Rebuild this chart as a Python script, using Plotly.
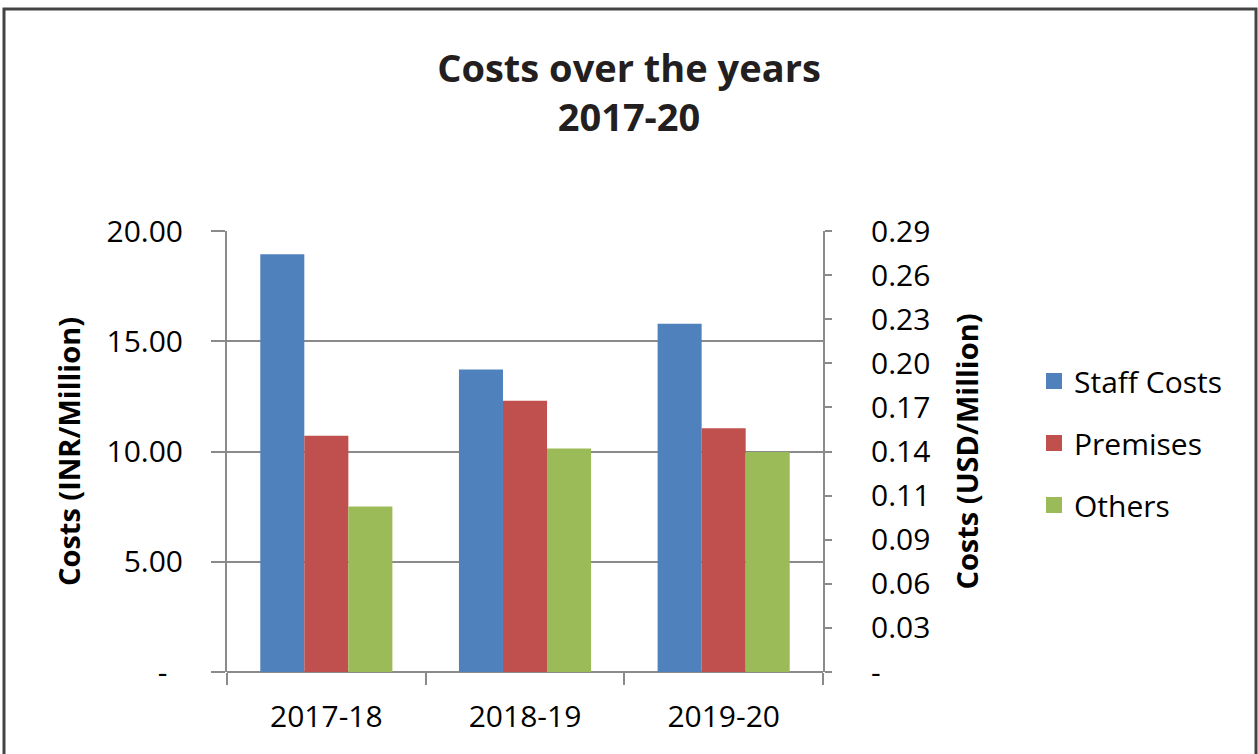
import plotly.graph_objects as go

# Annual costs in INR million
years = ["2017-18", "2018-19", "2019-20"]
staff_costs = [18.94, 13.72, 15.79]
premises = [10.71, 12.30, 11.06]
others = [7.51, 10.14, 9.98]

series_names = ["Staff Costs", "Premises", "Others"]
series_colors = ["#4F81BD", "#C0504D", "#9BBB59"]

# Left axis (INR) ticks
inr_tick_vals = [0, 5, 10, 15, 20]
inr_tick_labels = ["-\u00a0\u00a0", "5.00", "10.00", "15.00", "20.00"]

# Right axis (USD) ticks, INR converted at this rate
INR_PER_USD = 69.7
usd_tick_labels = ["-", "0.03", "0.06", "0.09", "0.11", "0.14",
                   "0.17", "0.20", "0.23", "0.26", "0.29"]

inr_top = 20
usd_top = inr_top / INR_PER_USD
usd_tick_vals = [i * usd_top / (len(usd_tick_labels) - 1) for i in range(len(usd_tick_labels))]

FONT = "Open Sans"
GRID = "#8a8a8a"

fig = go.Figure()
for name, vals, color in zip(series_names, [staff_costs, premises, others], series_colors):
    fig.add_trace(go.Bar(
        x=years, y=vals, name=name, marker=dict(color=color, line=dict(width=0)),
        showlegend=False, legendgroup=name,
    ))

# Legend entries (square swatches) attached to the USD axis
for name, color in zip(series_names, series_colors):
    fig.add_trace(go.Scatter(
        x=[None], y=[None], mode="markers", name=name, legendgroup=name,
        marker=dict(symbol="square", size=16, color=color), yaxis="y2",
        hoverinfo="skip",
    ))

# Plot area in pixels
W, H = 1258, 754
L, R, T, B = 227, 823, 231, 672

fig.update_layout(
    width=W, height=H,
    margin=dict(l=L, r=W - R, t=T, b=H - B, pad=0),
    paper_bgcolor="white", plot_bgcolor="white",
    font=dict(family=FONT, color="black", size=28),
    barmode="group", bargap=0.335, bargroupgap=0,
    title=dict(
        text="<b>Costs over the years<br>2017-20</b>",
        x=0.5, xanchor="center", xref="container",
        y=1 - 82 / H, yanchor="top", yref="container",
        font=dict(family=FONT, size=38, color="#231f20"),
    ),
    xaxis=dict(
        showline=False, showgrid=False, tickson="boundaries",
        ticks="outside", ticklen=12, tickwidth=2, tickcolor=GRID,
        ticklabelstandoff=24, tickfont=dict(size=30),
    ),
    yaxis=dict(
        range=[0, inr_top], tickvals=inr_tick_vals, ticktext=inr_tick_labels,
        showgrid=True, gridcolor=GRID, gridwidth=2,
        zeroline=True, zerolinecolor=GRID, zerolinewidth=2,
        showline=True, linecolor=GRID, linewidth=2,
        ticks="outside", ticklen=14, tickwidth=2, tickcolor=GRID,
        ticklabelstandoff=22, tickfont=dict(size=30),
        title=dict(text="<b>Costs (INR/Million)</b>", font=dict(size=29), standoff=17),
    ),
    yaxis2=dict(
        overlaying="y", side="right",
        range=[0, usd_top], tickvals=usd_tick_vals, ticktext=usd_tick_labels,
        showgrid=False, zeroline=False,
        showline=True, linecolor=GRID, linewidth=2,
        ticks="outside", ticklen=7, tickwidth=2, tickcolor=GRID,
        ticklabelstandoff=33, tickfont=dict(size=30),
        title=dict(text="<b>Costs (USD/Million)</b>", font=dict(size=29), standoff=28),
    ),
    legend=dict(
        x=(1034 - L) / (R - L), xanchor="left", xref="paper",
        y=(B - 443) / (B - T), yanchor="middle",
        font=dict(size=30), traceorder="grouped", tracegroupgap=20,
        itemsizing="trace", bgcolor="rgba(0,0,0,0)",
    ),
    hovermode=False,
)

# Outer frame around the whole chart
def px_x(p):
    return (p - L) / (R - L)

def px_y(p):
    return (B - p) / (B - T)

fig.add_shape(type="rect", xref="paper", yref="paper",
              x0=px_x(4), x1=px_x(1256), y0=px_y(9), y1=px_y(760),
              line=dict(color="#444444", width=3), layer="above")

fig.write_html("out.html")
